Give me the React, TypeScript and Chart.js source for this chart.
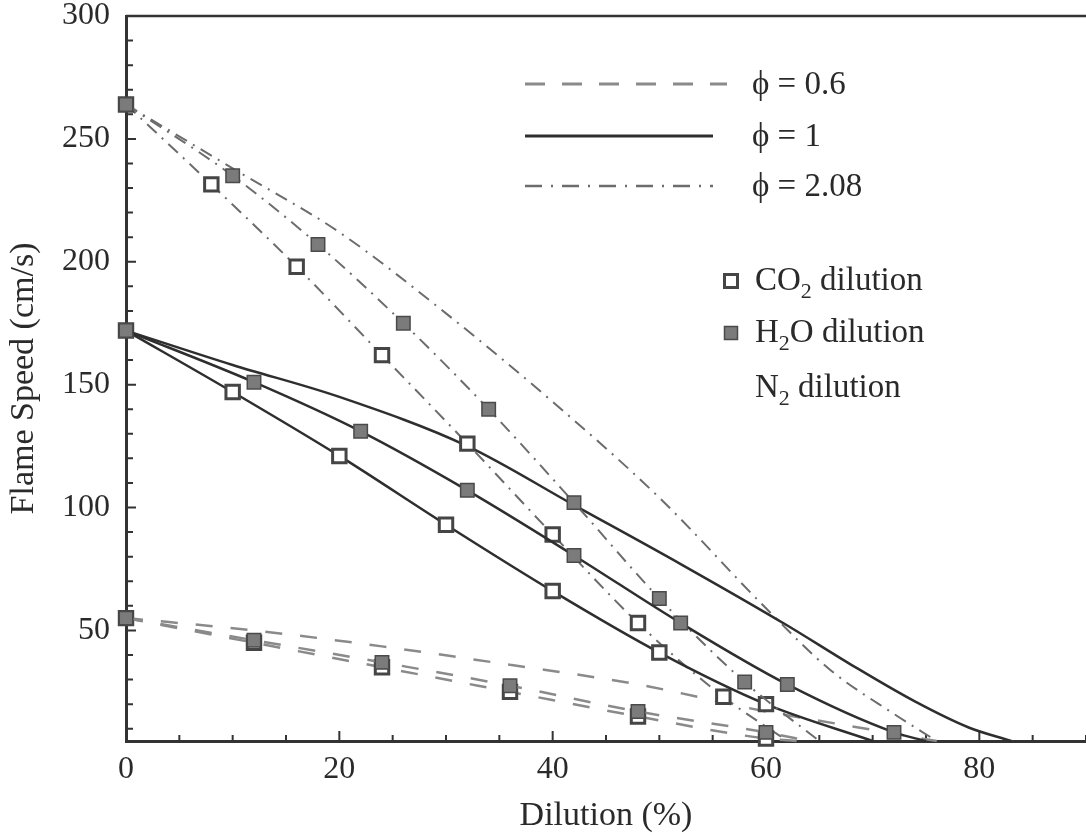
import React, { useEffect, useRef } from 'react';
import { Chart, registerables } from 'chart.js';

Chart.register(...registerables);

const FONT = '"Liberation Serif", "Times New Roman", serif';
const AXIS_COLOR = '#333333';
const TEXT_COLOR = '#2a2a2a';

// ---------- data (dilution %, flame speed cm/s) ----------
// phi = 0.6
const n2Phi06X = [0, 12, 24, 36, 48, 60, 64, 68, 72, 76];
const n2Phi06Y = [55, 50, 43.5, 36, 28, 17, 14, 11, 8, 5];
const co2Phi06X = [0, 12, 24, 36, 48, 60, 63];
const co2Phi06Y = [55, 45, 35, 25, 15, 6, 5];
const h2oPhi06X = [0, 12, 24, 36, 48, 60, 64];
const h2oPhi06Y = [55, 46, 37, 27.5, 17, 8.5, 5];

// phi = 1
const n2Phi1X = [0, 10, 20, 32, 42, 52, 62, 68, 74, 79, 83];
const n2Phi1Y = [172, 158, 145, 125, 101, 77, 52, 36, 21, 10.5, 5];
const co2Phi1X = [0, 10, 20, 30, 40, 50, 60, 70];
const co2Phi1Y = [172, 147, 121, 93, 66, 41, 20, 5];
const h2oPhi1X = [0, 12, 22, 32, 42, 52, 62, 72, 75];
const h2oPhi1Y = [172, 151, 131, 107, 80.5, 53, 28, 8.5, 5];

// phi = 2.08
const n2Phi208X = [0, 10, 20, 30, 40, 50, 60, 66, 72, 76];
const n2Phi208Y = [264, 238, 212, 179, 143, 104, 59, 34, 16, 5];
const co2Phi208X = [0, 8, 16, 24, 32, 40, 48, 56, 62];
const co2Phi208Y = [264, 231.5, 198, 162, 126, 89, 53, 23, 5];
const h2oPhi208X = [0, 10, 18, 26, 34, 42, 50, 58, 65];
const h2oPhi208Y = [264, 235, 207, 175, 140, 102, 63, 29, 5];

// ---------- axes ----------
const X_MIN = 0;
const X_MAX = 90;
const Y_MIN = 5;
const Y_MAX = 300;
const X_TICKS = [0, 5, 10, 15, 20, 25, 30, 35, 40, 45, 50, 55, 60, 65, 70, 75, 80, 85, 90];
const X_LABELED = [0, 20, 40, 60, 80];
const Y_TICKS = [10, 20, 30, 40, 50, 60, 70, 80, 90, 100, 110, 120, 130, 140, 150, 160, 170, 180, 190, 200, 210, 220, 230, 240, 250, 260, 270, 280, 290, 300];
const Y_LABELED = [50, 100, 150, 200, 250, 300];
const X_TITLE = 'Dilution (%)';
const Y_TITLE = 'Flame Speed (cm/s)';

// ---------- legend texts ----------
const LEGEND_PHI = ['ϕ = 0.6', 'ϕ = 1', 'ϕ = 2.08'];
const LEGEND_DILUENT = [
  ['CO', '2', ' dilution'],
  ['H', '2', 'O dilution'],
  ['N', '2', ' dilution'],
];

type PhiKey = 'p06' | 'p1' | 'p208';
const PHI_STYLE: Record<PhiKey, { color: string; width: number; dash: number[]; legendDash: number[] }> = {
  p06: { color: '#8a8a8a', width: 2.5, dash: [17, 18], legendDash: [20, 17] },
  p1: { color: '#2e2e2e', width: 2.5, dash: [], legendDash: [] },
  p208: { color: '#6c6c6c', width: 2, dash: [13, 7, 2, 7], legendDash: [17, 9, 2, 9] },
};

type Marker = 'open' | 'filled' | 'none';
const MARKER_STYLE = {
  open: { bg: '#ffffff', border: '#454545', width: 3 },
  filled: { bg: '#7b7b7b', border: '#4a4a4a', width: 1.5 },
};

function series(label: string, xs: number[], ys: number[], phi: PhiKey, marker: Marker) {
  const s = PHI_STYLE[phi];
  const last = xs.length - 1;
  const m = marker === 'none' ? null : MARKER_STYLE[marker];
  return {
    label,
    data: xs.map((x, i) => ({ x, y: ys[i] })),
    borderColor: s.color,
    borderWidth: s.width,
    borderDash: s.dash,
    cubicInterpolationMode: 'monotone' as const,
    fill: false,
    clip: 12,
    pointStyle: 'rect' as const,
    pointRadius: m ? (ctx: any) => (ctx.dataIndex < last ? 9.5 : 0) : 0,
    pointHoverRadius: 0,
    pointBackgroundColor: m ? m.bg : 'transparent',
    pointBorderColor: m ? m.border : 'transparent',
    pointBorderWidth: m ? m.width : 0,
  };
}

const innerTicks = {
  id: 'innerTicks',
  beforeDatasetsDraw(chart: any) {
    const { ctx, chartArea, scales } = chart;
    const xs = scales.x;
    const ys = scales.y;
    ctx.save();
    ctx.strokeStyle = AXIS_COLOR;
    ctx.lineWidth = 2;
    ctx.beginPath();
    for (const t of xs.ticks) {
      const px = xs.getPixelForValue(t.value);
      const len = X_LABELED.includes(t.value) ? 10 : 6;
      ctx.moveTo(px, chartArea.bottom);
      ctx.lineTo(px, chartArea.bottom - len);
    }
    for (const t of ys.ticks) {
      const py = ys.getPixelForValue(t.value);
      const len = Y_LABELED.includes(t.value) ? 10 : 7;
      ctx.moveTo(chartArea.left, py);
      ctx.lineTo(chartArea.left + len, py);
    }
    ctx.stroke();
    ctx.lineWidth = 2.5;
    ctx.beginPath();
    ctx.moveTo(chartArea.left, chartArea.top);
    ctx.lineTo(chartArea.right, chartArea.top);
    ctx.stroke();
    ctx.restore();
  },
};

const customLegend = {
  id: 'customLegend',
  afterDraw(chart: any) {
    const ctx: CanvasRenderingContext2D = chart.ctx;
    ctx.save();
    const fontSize = 33;
    ctx.font = `${fontSize}px ${FONT}`;
    ctx.fillStyle = TEXT_COLOR;
    ctx.textBaseline = 'middle';
    ctx.textAlign = 'left';

    const keys: PhiKey[] = ['p06', 'p1', 'p208'];
    const lineY = [84, 136, 186];
    const lineEnd = [727, 713, 713];
    keys.forEach((k, i) => {
      const s = PHI_STYLE[k];
      ctx.save();
      ctx.strokeStyle = s.color;
      ctx.lineWidth = s.width + 0.5;
      ctx.setLineDash(s.legendDash);
      ctx.beginPath();
      ctx.moveTo(525, lineY[i]);
      ctx.lineTo(lineEnd[i], lineY[i]);
      ctx.stroke();
      ctx.restore();
      ctx.fillText(LEGEND_PHI[i], 752, lineY[i] + 1);
    });

    const rowY = [281, 333, 388];
    const markers: Marker[] = ['open', 'filled', 'none'];
    LEGEND_DILUENT.forEach((parts, i) => {
      const mk = markers[i];
      if (mk !== 'none') {
        const m = MARKER_STYLE[mk];
        ctx.save();
        ctx.fillStyle = m.bg;
        ctx.strokeStyle = m.border;
        ctx.lineWidth = m.width;
        const half = 6.5;
        ctx.beginPath();
        ctx.rect(731 - half, rowY[i] - half, half * 2, half * 2);
        ctx.fill();
        ctx.stroke();
        ctx.restore();
      }
      let x = 755;
      const y = rowY[i];
      ctx.font = `${fontSize}px ${FONT}`;
      ctx.fillText(parts[0], x, y);
      x += ctx.measureText(parts[0]).width;
      ctx.font = `${Math.round(fontSize * 0.68)}px ${FONT}`;
      ctx.fillText(parts[1], x, y + 11);
      x += ctx.measureText(parts[1]).width;
      ctx.font = `${fontSize}px ${FONT}`;
      ctx.fillText(parts[2], x, y);
    });
    ctx.restore();
  },
};

export default function App() {
  const ref = useRef<HTMLCanvasElement>(null);

  useEffect(() => {
    const canvas = ref.current;
    if (!canvas) return;
    // Chart.js paints the first dataset last (on top): H2O, then CO2, then N2.
    const datasets = [
      series('H2O φ=0.6', h2oPhi06X, h2oPhi06Y, 'p06', 'filled'),
      series('H2O φ=1', h2oPhi1X, h2oPhi1Y, 'p1', 'filled'),
      series('H2O φ=2.08', h2oPhi208X, h2oPhi208Y, 'p208', 'filled'),
      series('CO2 φ=0.6', co2Phi06X, co2Phi06Y, 'p06', 'open'),
      series('CO2 φ=1', co2Phi1X, co2Phi1Y, 'p1', 'open'),
      series('CO2 φ=2.08', co2Phi208X, co2Phi208Y, 'p208', 'open'),
      series('N2 φ=0.6', n2Phi06X, n2Phi06Y, 'p06', 'none'),
      series('N2 φ=1', n2Phi1X, n2Phi1Y, 'p1', 'none'),
      series('N2 φ=2.08', n2Phi208X, n2Phi208Y, 'p208', 'none'),
    ];
    const chart = new Chart(canvas, {
      type: 'line',
      data: { datasets },
      options: {
        animation: false,
        responsive: false,
        devicePixelRatio: 1,
        events: [],
        layout: { autoPadding: false, padding: { top: 16, right: 0, left: 0, bottom: 0 } },
        plugins: {
          legend: { display: false },
          tooltip: { enabled: false },
        },
        scales: {
          x: {
            type: 'linear',
            min: X_MIN,
            max: X_MAX,
            afterBuildTicks: (scale: any) => {
              scale.ticks = X_TICKS.map((v) => ({ value: v }));
            },
            afterFit: (scale: any) => {
              scale.height = 95;
              scale.paddingLeft = 0;
              scale.paddingRight = 0;
            },
            grid: { display: false, drawTicks: false },
            border: { display: true, color: AXIS_COLOR, width: 3 },
            ticks: {
              autoSkip: false,
              maxRotation: 0,
              padding: 9,
              color: TEXT_COLOR,
              font: { family: FONT, size: 32 },
              callback: (v: any) => (X_LABELED.includes(Number(v)) ? String(v) : ''),
            },
            title: {
              display: true,
              text: X_TITLE,
              color: TEXT_COLOR,
              font: { family: FONT, size: 34 },
              padding: { top: 0, bottom: 0 },
            },
          },
          y: {
            type: 'linear',
            min: Y_MIN,
            max: Y_MAX,
            afterBuildTicks: (scale: any) => {
              scale.ticks = Y_TICKS.map((v) => ({ value: v }));
            },
            afterFit: (scale: any) => {
              scale.width = 126;
              scale.paddingTop = 0;
              scale.paddingBottom = 0;
            },
            grid: { display: false, drawTicks: false },
            border: { display: true, color: AXIS_COLOR, width: 3 },
            ticks: {
              autoSkip: false,
              padding: 16,
              color: TEXT_COLOR,
              font: { family: FONT, size: 32 },
              callback: (v: any) => (Y_LABELED.includes(Number(v)) ? String(v) : ''),
            },
            title: {
              display: true,
              text: Y_TITLE,
              color: TEXT_COLOR,
              font: { family: FONT, size: 34 },
              padding: { top: 4, bottom: 0 },
            },
          },
        },
      },
      plugins: [innerTicks, customLegend],
    } as any);
    return () => chart.destroy();
  }, []);

  return (
    <div style={{ position: 'fixed', left: 0, top: 0, width: 1086, height: 836, background: '#ffffff' }}>
      <canvas ref={ref} width={1086} height={836} style={{ width: 1086, height: 836, display: 'block' }} />
    </div>
  );
}
